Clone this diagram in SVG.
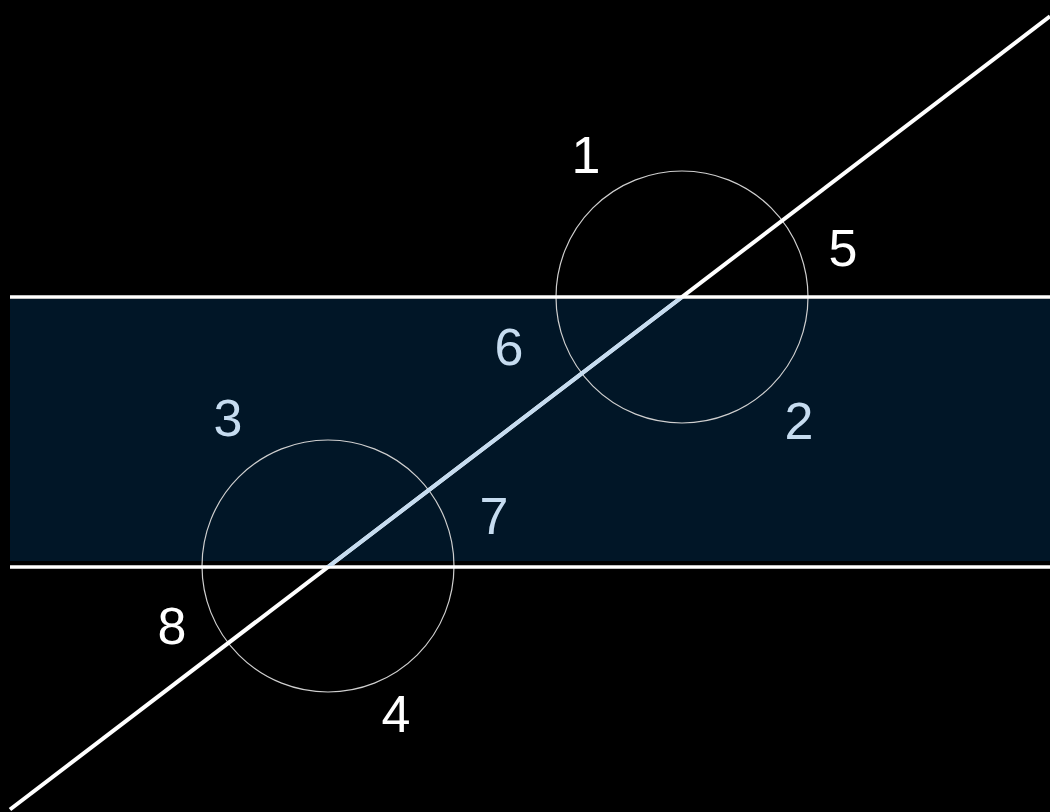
<svg xmlns="http://www.w3.org/2000/svg" width="1050" height="812" viewBox="0 0 1050 812">
<style>
.lbl{font-family:"Liberation Sans",Arial,sans-serif;font-size:52px;text-anchor:middle}
.out{fill:#ffffff}
.in{fill:#c6dcf0}
.circ{fill:none;stroke:#cfcfcf;stroke-width:1.2}
.edge{stroke:#ffffff;stroke-width:3.5}
</style>
<defs>
<clipPath id="bandclip"><rect x="0" y="298.5" width="1050" height="267.5"/></clipPath>
</defs>
<rect x="0" y="0" width="1050" height="812" fill="#000000"/>
<g id="band">
<rect x="10" y="299" width="1040" height="262" fill="#011627"/>
</g>
<g id="circle-top"><circle class="circ" cx="682" cy="297" r="126"/></g>
<g id="circle-bottom"><circle class="circ" cx="328" cy="566" r="126"/></g>
<g id="connectors">
<line class="edge" x1="10" y1="297" x2="1050" y2="297"/>
<line class="edge" x1="10" y1="567" x2="1050" y2="567"/>
<line x1="10" y1="809.5" x2="1050" y2="16.3" stroke="#ffffff" stroke-width="4"/>
<line x1="10" y1="809.5" x2="1050" y2="16.3" stroke="#c6dcf0" stroke-width="4" clip-path="url(#bandclip)"/>
</g>
<g id="labels">
<text class="lbl out" x="586" y="173">1</text>
<text class="lbl in" x="799" y="439">2</text>
<text class="lbl in" x="228" y="436">3</text>
<text class="lbl out" x="396" y="732">4</text>
<text class="lbl out" x="843" y="266">5</text>
<text class="lbl in" x="509" y="365">6</text>
<text class="lbl in" x="494" y="534">7</text>
<text class="lbl out" x="172" y="644">8</text>
</g>
</svg>
